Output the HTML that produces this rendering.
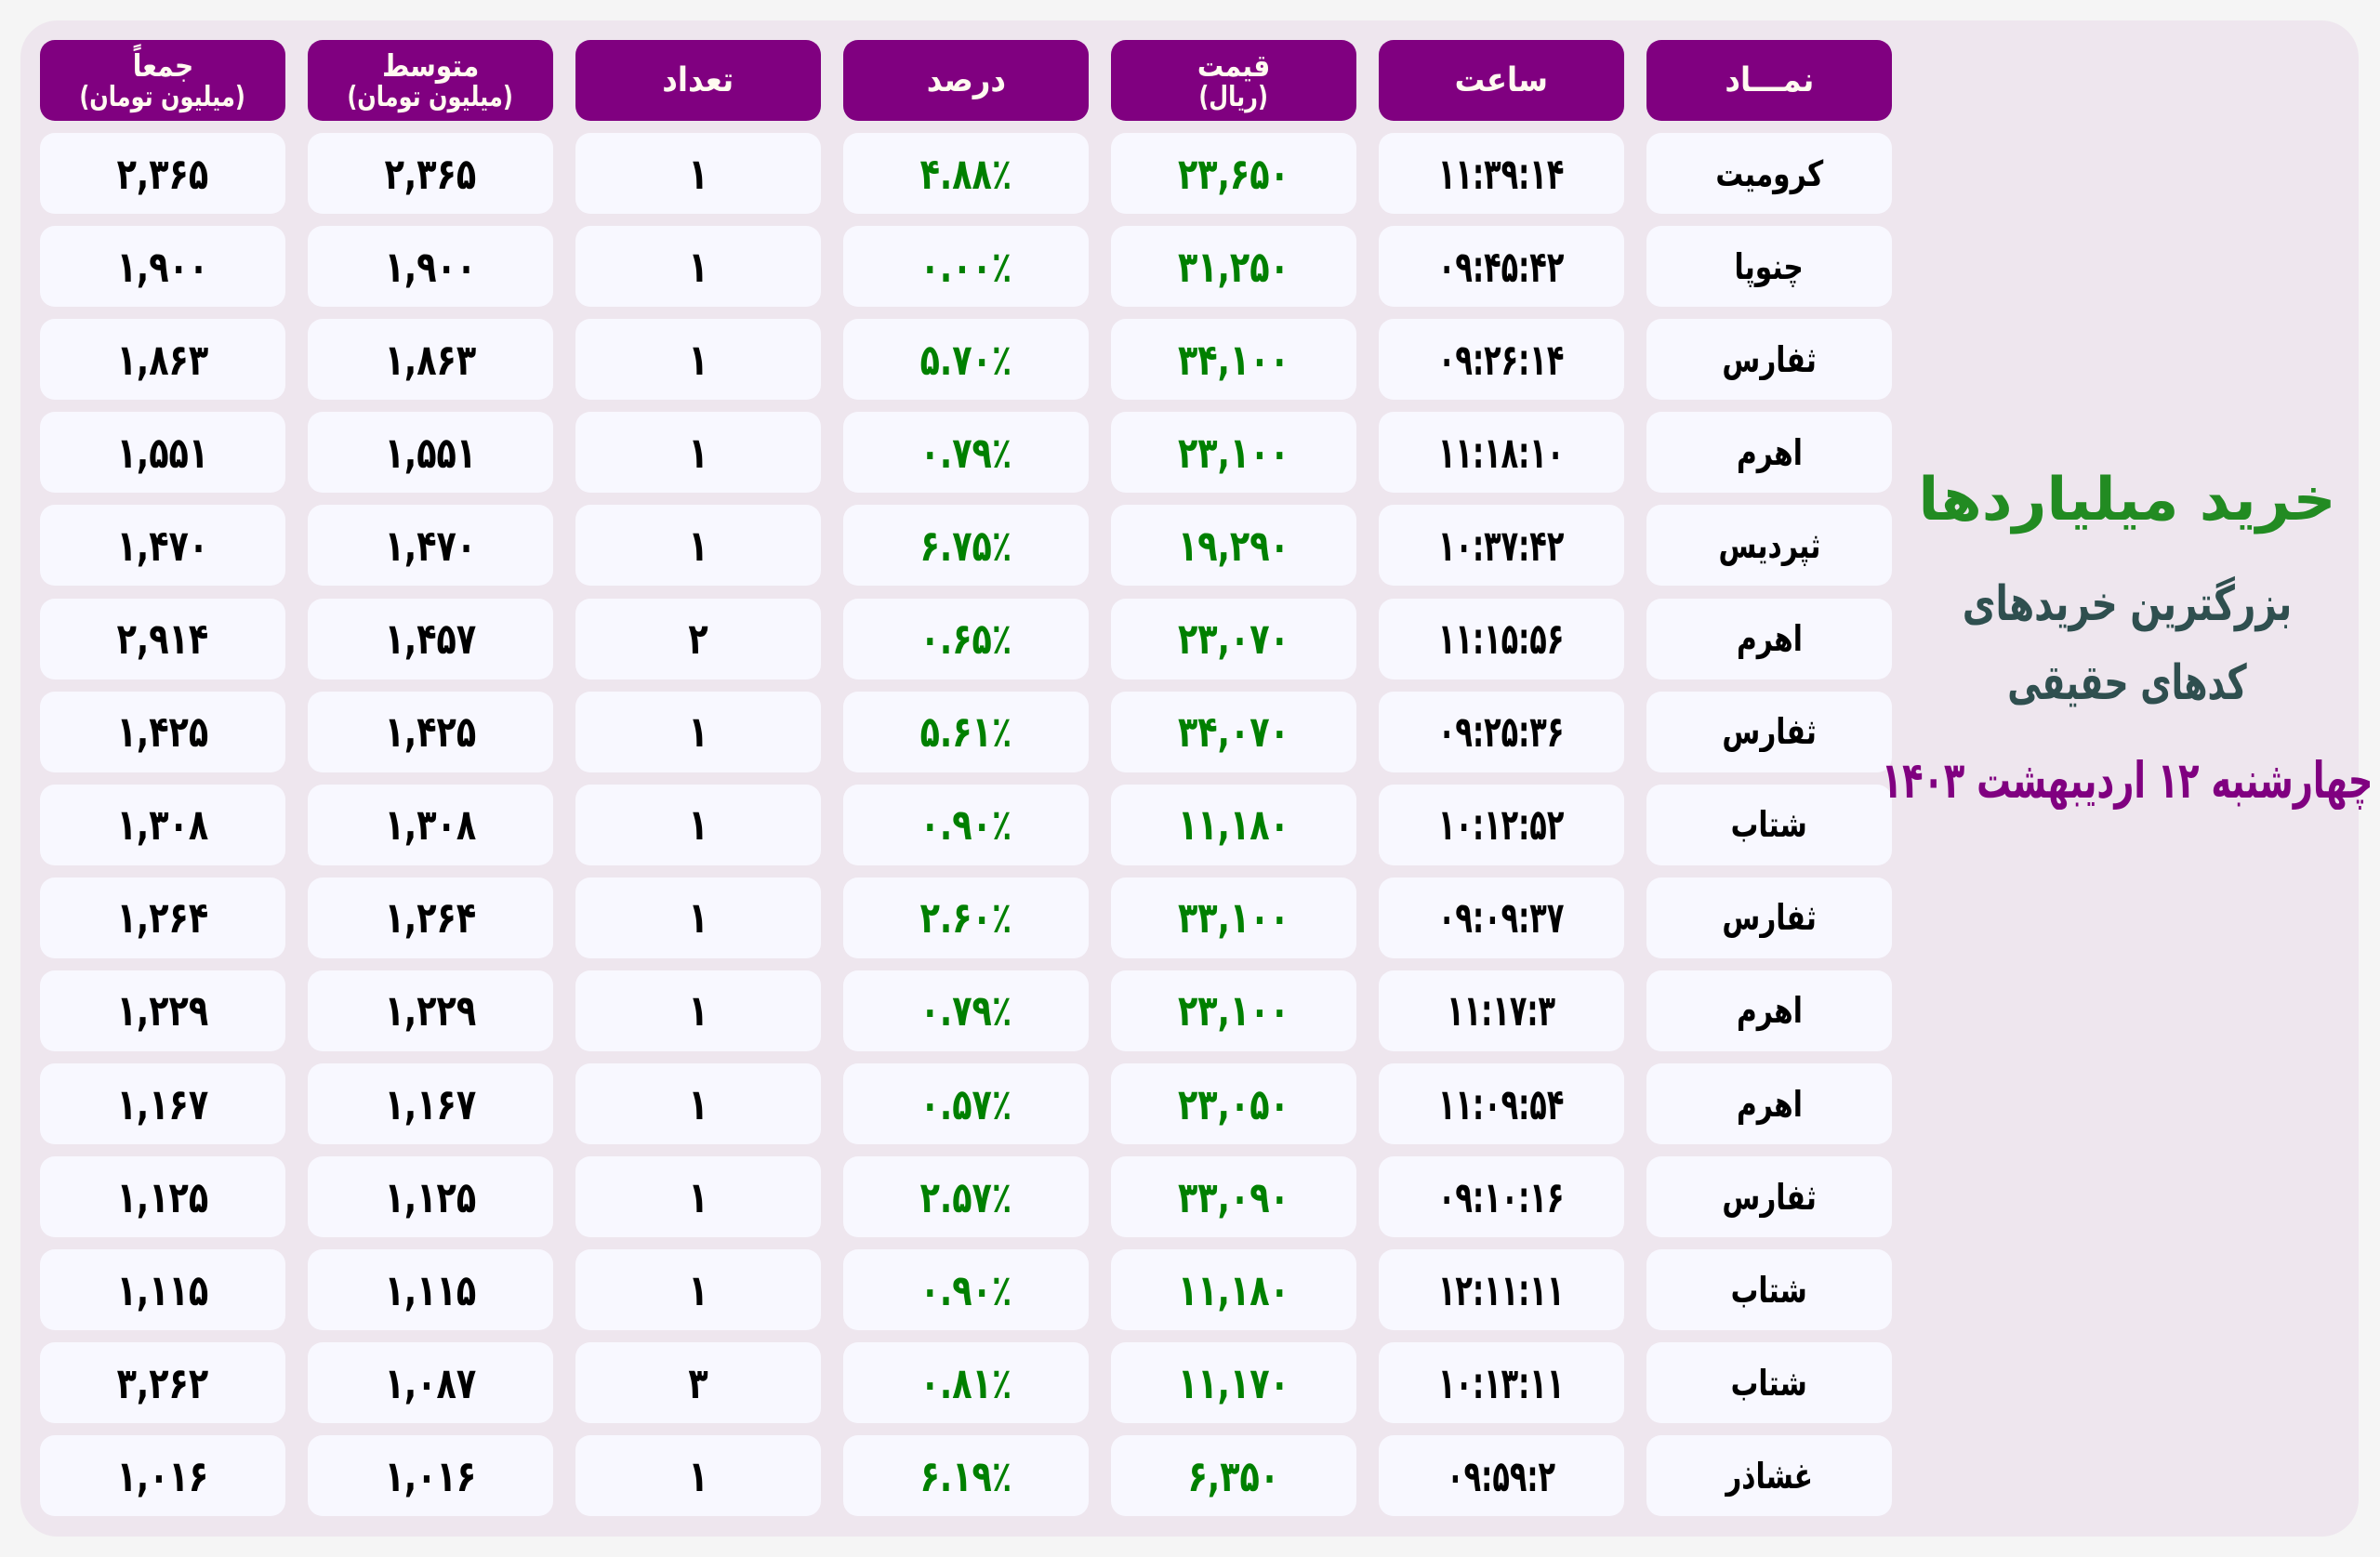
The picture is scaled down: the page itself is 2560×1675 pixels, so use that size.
<!DOCTYPE html>
<html lang="fa">
<head>
<meta charset="utf-8">
<style>
html,body{margin:0;padding:0;}
body{width:2560px;height:1675px;background:#f5f5f5;position:relative;overflow:hidden;font-family:"DejaVu Sans",sans-serif;font-weight:bold;}
.panel{position:absolute;left:22px;top:22px;width:2515px;height:1631px;border-radius:40px;background:#eee6ee;}
.grid{position:absolute;left:43px;top:43px;display:grid;grid-template-columns:repeat(7,264px);column-gap:24px;row-gap:13.1px;grid-auto-rows:87px;direction:ltr;}
.h{background:#800080;border-radius:16px;color:#fffaf0;display:flex;flex-direction:column;align-items:center;justify-content:center;line-height:1;}
.h span{display:inline-block;transform:scaleX(.9);white-space:nowrap;font-size:36px;}
.h span.t{font-size:33px;transform:scaleX(.85);}
.h span.s{font-size:30px;transform:scaleX(.8);margin-top:3px;}
.c{background:#f8f8ff;border-radius:16px;display:flex;align-items:center;justify-content:center;color:#000;}
.c span{display:inline-block;transform:scaleX(.76);white-space:nowrap;font-size:46px;line-height:1;}
.c span.m{transform:scaleX(.66);}
.c span.n{transform:scaleX(.78);font-size:38px;}
.g{color:#008000;}
.side{position:absolute;left:1788px;width:1000px;text-align:center;white-space:nowrap;line-height:1;transform-origin:500px 50%;}
.t1{top:506px;font-size:64px;color:#228b22;}
.t2{top:624px;font-size:52px;color:#2f4f4f;transform:scaleX(.75);}
.t3{top:709px;font-size:52px;color:#2f4f4f;transform:scaleX(.70);}
.t4{top:813px;font-size:54px;color:#800080;transform:scaleX(.68);}
</style>
</head>
<body>
<div class="panel"></div>
<div class="grid">
<div class="h"><span class="t" dir="rtl">جمعاً</span><span class="s" dir="rtl">(میلیون تومان)</span></div>
<div class="h"><span class="t" dir="rtl">متوسط</span><span class="s" dir="rtl">(میلیون تومان)</span></div>
<div class="h"><span dir="rtl">تعداد</span></div>
<div class="h"><span dir="rtl">درصد</span></div>
<div class="h"><span class="t" dir="rtl">قیمت</span><span class="s" dir="rtl">(ریال)</span></div>
<div class="h"><span dir="rtl">ساعت</span></div>
<div class="h"><span dir="rtl">نمـــاد</span></div>

<div class="c"><span>۲,۳۶۵</span></div><div class="c"><span>۲,۳۶۵</span></div><div class="c"><span>۱</span></div><div class="c g"><span>۴.۸۸٪</span></div><div class="c g"><span>۲۳,۶۵۰</span></div><div class="c"><span class="m">۱۱:۳۹:۱۴</span></div><div class="c"><span class="n" dir="rtl">کرومیت</span></div>
<div class="c"><span>۱,۹۰۰</span></div><div class="c"><span>۱,۹۰۰</span></div><div class="c"><span>۱</span></div><div class="c g"><span>۰.۰۰٪</span></div><div class="c g"><span>۳۱,۲۵۰</span></div><div class="c"><span class="m">۰۹:۴۵:۴۲</span></div><div class="c"><span class="n" dir="rtl">چنوپا</span></div>
<div class="c"><span>۱,۸۶۳</span></div><div class="c"><span>۱,۸۶۳</span></div><div class="c"><span>۱</span></div><div class="c g"><span>۵.۷۰٪</span></div><div class="c g"><span>۳۴,۱۰۰</span></div><div class="c"><span class="m">۰۹:۲۶:۱۴</span></div><div class="c"><span class="n" dir="rtl">ثفارس</span></div>
<div class="c"><span>۱,۵۵۱</span></div><div class="c"><span>۱,۵۵۱</span></div><div class="c"><span>۱</span></div><div class="c g"><span>۰.۷۹٪</span></div><div class="c g"><span>۲۳,۱۰۰</span></div><div class="c"><span class="m">۱۱:۱۸:۱۰</span></div><div class="c"><span class="n" dir="rtl">اهرم</span></div>
<div class="c"><span>۱,۴۷۰</span></div><div class="c"><span>۱,۴۷۰</span></div><div class="c"><span>۱</span></div><div class="c g"><span>۶.۷۵٪</span></div><div class="c g"><span>۱۹,۲۹۰</span></div><div class="c"><span class="m">۱۰:۳۷:۴۲</span></div><div class="c"><span class="n" dir="rtl">ثپردیس</span></div>
<div class="c"><span>۲,۹۱۴</span></div><div class="c"><span>۱,۴۵۷</span></div><div class="c"><span>۲</span></div><div class="c g"><span>۰.۶۵٪</span></div><div class="c g"><span>۲۳,۰۷۰</span></div><div class="c"><span class="m">۱۱:۱۵:۵۶</span></div><div class="c"><span class="n" dir="rtl">اهرم</span></div>
<div class="c"><span>۱,۴۲۵</span></div><div class="c"><span>۱,۴۲۵</span></div><div class="c"><span>۱</span></div><div class="c g"><span>۵.۶۱٪</span></div><div class="c g"><span>۳۴,۰۷۰</span></div><div class="c"><span class="m">۰۹:۲۵:۳۶</span></div><div class="c"><span class="n" dir="rtl">ثفارس</span></div>
<div class="c"><span>۱,۳۰۸</span></div><div class="c"><span>۱,۳۰۸</span></div><div class="c"><span>۱</span></div><div class="c g"><span>۰.۹۰٪</span></div><div class="c g"><span>۱۱,۱۸۰</span></div><div class="c"><span class="m">۱۰:۱۲:۵۲</span></div><div class="c"><span class="n" dir="rtl">شتاب</span></div>
<div class="c"><span>۱,۲۶۴</span></div><div class="c"><span>۱,۲۶۴</span></div><div class="c"><span>۱</span></div><div class="c g"><span>۲.۶۰٪</span></div><div class="c g"><span>۳۳,۱۰۰</span></div><div class="c"><span class="m">۰۹:۰۹:۳۷</span></div><div class="c"><span class="n" dir="rtl">ثفارس</span></div>
<div class="c"><span>۱,۲۲۹</span></div><div class="c"><span>۱,۲۲۹</span></div><div class="c"><span>۱</span></div><div class="c g"><span>۰.۷۹٪</span></div><div class="c g"><span>۲۳,۱۰۰</span></div><div class="c"><span class="m">۱۱:۱۷:۳</span></div><div class="c"><span class="n" dir="rtl">اهرم</span></div>
<div class="c"><span>۱,۱۶۷</span></div><div class="c"><span>۱,۱۶۷</span></div><div class="c"><span>۱</span></div><div class="c g"><span>۰.۵۷٪</span></div><div class="c g"><span>۲۳,۰۵۰</span></div><div class="c"><span class="m">۱۱:۰۹:۵۴</span></div><div class="c"><span class="n" dir="rtl">اهرم</span></div>
<div class="c"><span>۱,۱۲۵</span></div><div class="c"><span>۱,۱۲۵</span></div><div class="c"><span>۱</span></div><div class="c g"><span>۲.۵۷٪</span></div><div class="c g"><span>۳۳,۰۹۰</span></div><div class="c"><span class="m">۰۹:۱۰:۱۶</span></div><div class="c"><span class="n" dir="rtl">ثفارس</span></div>
<div class="c"><span>۱,۱۱۵</span></div><div class="c"><span>۱,۱۱۵</span></div><div class="c"><span>۱</span></div><div class="c g"><span>۰.۹۰٪</span></div><div class="c g"><span>۱۱,۱۸۰</span></div><div class="c"><span class="m">۱۲:۱۱:۱۱</span></div><div class="c"><span class="n" dir="rtl">شتاب</span></div>
<div class="c"><span>۳,۲۶۲</span></div><div class="c"><span>۱,۰۸۷</span></div><div class="c"><span>۳</span></div><div class="c g"><span>۰.۸۱٪</span></div><div class="c g"><span>۱۱,۱۷۰</span></div><div class="c"><span class="m">۱۰:۱۳:۱۱</span></div><div class="c"><span class="n" dir="rtl">شتاب</span></div>
<div class="c"><span>۱,۰۱۶</span></div><div class="c"><span>۱,۰۱۶</span></div><div class="c"><span>۱</span></div><div class="c g"><span>۶.۱۹٪</span></div><div class="c g"><span>۶,۳۵۰</span></div><div class="c"><span class="m">۰۹:۵۹:۲</span></div><div class="c"><span class="n" dir="rtl">غشاذر</span></div>
</div>

<div class="side t1" dir="rtl">خرید میلیاردها</div>
<div class="side t2" dir="rtl">بزرگترین خریدهای</div>
<div class="side t3" dir="rtl">کدهای حقیقی</div>
<div class="side t4" dir="rtl">چهارشنبه ۱۲ اردیبهشت ۱۴۰۳</div>
</body>
</html>
